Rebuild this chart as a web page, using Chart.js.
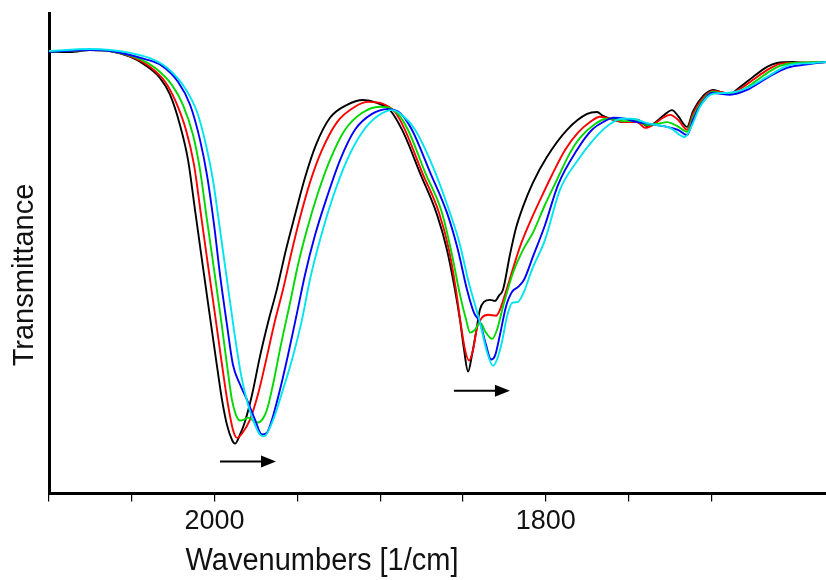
<!DOCTYPE html>
<html>
<head>
<meta charset="utf-8">
<script src="https://cdn.jsdelivr.net/npm/chart.js@4.4.0/dist/chart.umd.min.js"></script>
<style>
  html, body { margin: 0; padding: 0; background: #fff; }
  #wrap { width: 826px; height: 580px; }
</style>
</head>
<body>
<div id="wrap"><canvas id="chart" width="826" height="580"></canvas></div>
<script>
// IR spectra, wavenumber (1/cm) vs transmittance (arbitrary units 0-100)
const wnBlack = [2100, 2087.3, 2075.2, 2063.2, 2051.1, 2042.0, 2033.0, 2026.9, 2020.9, 2016.0, 2011.8, 2007.6, 2003.4, 1999.1, 1995.5, 1992.5, 1989.5, 1987.7, 1984.6, 1981.6, 1977.4, 1972.6, 1967.7, 1962.3, 1956.9, 1951.4, 1945.4, 1938.7, 1930.3, 1920.0, 1910.3, 1901.9, 1894.0, 1886.2, 1875.9, 1865.6, 1859.6, 1854.8, 1851.8, 1849.3, 1846.9, 1844.5, 1842.1, 1839.7, 1837.3, 1833.6, 1830.6, 1828.2, 1825.8, 1821.6, 1817.9, 1813.7, 1807.7, 1799.2, 1787.1, 1775.0, 1769.0, 1765.4, 1759.3, 1753.3, 1744.8, 1738.8, 1735.2, 1729.1, 1723.7, 1720.1, 1714.6, 1711.0, 1705.0, 1698.9, 1694.7, 1688.7, 1682.6, 1674.8, 1666.3, 1660.3, 1650.6, 1642.2, 1630.7];
const tBlack = [91.9, 91.9, 92.3, 92.1, 90.9, 89.2, 86.5, 83.0, 76.7, 69.4, 59.0, 48.6, 38.3, 27.9, 19.5, 14.3, 11.2, 10.4, 12.3, 15.0, 20.5, 28.5, 35.6, 42.6, 50.7, 58.0, 65.7, 72.6, 78.2, 80.9, 81.9, 81.3, 79.8, 75.3, 66.7, 58.0, 50.7, 42.4, 36.2, 29.9, 25.4, 28.9, 33.5, 38.3, 39.9, 40.3, 40.1, 41.2, 42.4, 49.7, 55.3, 59.7, 64.7, 70.1, 75.7, 79.0, 79.4, 78.6, 77.8, 77.3, 77.8, 76.5, 76.9, 78.6, 79.8, 78.6, 76.3, 79.6, 82.7, 84.0, 83.6, 83.2, 84.6, 86.7, 88.8, 89.6, 89.8, 89.6, 89.8];

const wnRed = [2100, 2075.2, 2063.2, 2048.1, 2039.0, 2029.9, 2023.9, 2017.3, 2012.4, 2008.2, 2004.0, 1999.7, 1995.5, 1991.9, 1988.9, 1986.4, 1983.4, 1978.6, 1973.8, 1969.5, 1964.1, 1958.7, 1953.2, 1948.4, 1942.4, 1935.1, 1926.0, 1915.2, 1907.3, 1898.3, 1891.0, 1885.0, 1874.7, 1864.4, 1858.4, 1854.2, 1851.2, 1848.7, 1846.3, 1843.9, 1841.5, 1838.5, 1834.8, 1830.0, 1827.6, 1824.6, 1820.3, 1815.5, 1809.5, 1803.4, 1796.2, 1788.3, 1780.5, 1773.2, 1767.2, 1759.3, 1753.3, 1744.8, 1740.0, 1735.2, 1729.1, 1724.9, 1720.1, 1714.6, 1711.0, 1705.0, 1698.9, 1694.7, 1688.7, 1682.6, 1674.8, 1666.3, 1658.5, 1650.6, 1630.7];
const tRed = [91.9, 92.3, 92.1, 90.6, 88.8, 85.7, 81.9, 75.7, 68.4, 58.0, 47.6, 37.2, 26.8, 18.5, 13.3, 11.6, 12.5, 15.4, 20.6, 26.8, 35.1, 42.4, 50.7, 57.4, 64.7, 71.5, 77.3, 80.5, 81.5, 81.1, 79.4, 75.7, 66.9, 58.4, 50.7, 42.4, 35.1, 29.9, 27.7, 29.9, 34.5, 36.6, 37.2, 37.0, 38.3, 41.4, 46.2, 51.4, 56.5, 61.1, 66.3, 71.5, 75.1, 77.3, 78.4, 77.8, 77.3, 77.3, 76.1, 76.7, 78.2, 78.8, 77.8, 75.7, 79.0, 82.3, 83.8, 83.6, 83.2, 84.2, 86.1, 88.1, 89.4, 89.6, 89.8];

const wnGreen = [2100, 2075.2, 2063.2, 2045.0, 2036.0, 2025.7, 2019.1, 2013.0, 2008.8, 2004.6, 2000.3, 1996.1, 1992.5, 1989.5, 1987.1, 1984.6, 1982.2, 1979.8, 1976.8, 1973.8, 1970.8, 1968.3, 1964.7, 1959.9, 1954.4, 1949.6, 1944.2, 1937.5, 1930.3, 1921.2, 1911.0, 1900.1, 1894.0, 1889.2, 1883.2, 1872.9, 1862.6, 1856.6, 1851.8, 1848.1, 1845.7, 1842.7, 1839.7, 1836.1, 1832.4, 1829.4, 1825.8, 1819.8, 1813.7, 1807.7, 1800.4, 1793.2, 1785.3, 1779.3, 1770.2, 1763.0, 1759.3, 1753.3, 1744.8, 1738.8, 1732.8, 1726.7, 1720.7, 1714.6, 1711.0, 1705.0, 1698.9, 1694.7, 1688.7, 1682.6, 1674.8, 1666.3, 1658.5, 1650.6, 1630.7];
const tGreen = [91.9, 92.3, 92.1, 90.4, 88.6, 85.0, 80.9, 74.6, 67.4, 57.0, 46.6, 36.2, 26.8, 19.5, 16.4, 15.2, 15.4, 15.8, 15.2, 14.8, 15.6, 17.5, 22.7, 31.0, 39.7, 47.6, 54.9, 62.6, 69.4, 75.7, 79.2, 80.5, 80.2, 79.0, 75.7, 66.9, 58.4, 49.7, 41.4, 36.2, 33.5, 34.1, 35.6, 33.5, 32.2, 34.1, 38.9, 45.9, 50.7, 54.3, 60.1, 65.3, 70.9, 74.0, 76.9, 78.0, 78.0, 77.5, 77.5, 76.7, 76.9, 77.3, 76.5, 75.3, 78.4, 81.9, 83.6, 83.4, 83.2, 83.8, 85.4, 87.5, 89.0, 89.6, 89.8];

const wnBlue = [2100, 2075.2, 2063.2, 2042.0, 2031.7, 2022.1, 2014.8, 2008.8, 2004.6, 2000.3, 1996.7, 1992.5, 1988.9, 1984.6, 1980.4, 1975.6, 1971.4, 1968.3, 1965.3, 1960.5, 1955.6, 1950.2, 1945.4, 1939.3, 1932.1, 1924.2, 1915.2, 1904.9, 1895.2, 1888.0, 1880.8, 1869.9, 1859.6, 1853.0, 1847.5, 1843.3, 1839.7, 1836.1, 1833.0, 1830.6, 1827.6, 1824.0, 1820.3, 1816.7, 1813.1, 1807.7, 1800.4, 1792.6, 1781.1, 1772.0, 1764.2, 1759.3, 1752.1, 1744.8, 1737.0, 1726.7, 1720.1, 1714.6, 1711.0, 1706.8, 1698.9, 1694.7, 1688.7, 1678.4, 1666.3, 1654.3, 1640.4, 1630.7];
const tBlue = [91.9, 92.3, 92.1, 90.4, 89.0, 85.7, 80.9, 73.6, 66.3, 55.9, 45.5, 35.1, 26.8, 22.7, 19.5, 15.4, 12.3, 12.7, 15.4, 21.6, 28.9, 37.6, 45.5, 53.8, 61.7, 69.4, 75.7, 79.0, 80.0, 79.2, 75.7, 66.9, 58.4, 50.7, 42.4, 37.6, 35.6, 31.0, 27.9, 28.7, 33.1, 38.9, 42.0, 43.0, 44.5, 49.3, 55.9, 64.2, 71.5, 75.7, 77.5, 78.2, 78.0, 77.3, 76.9, 76.3, 75.7, 74.6, 77.8, 80.7, 83.4, 83.2, 83.0, 84.0, 86.5, 88.6, 89.4, 89.8];

const wnCyan = [2100, 2075.2, 2063.2, 2051.1, 2039.0, 2028.7, 2017.9, 2010.6, 2005.2, 2001.0, 1996.7, 1992.5, 1988.3, 1984.0, 1979.8, 1975.6, 1972.6, 1970.1, 1967.7, 1963.5, 1958.7, 1953.2, 1947.2, 1942.4, 1936.3, 1929.1, 1920.0, 1911.0, 1901.3, 1892.8, 1886.2, 1878.9, 1868.1, 1857.8, 1851.8, 1846.9, 1842.7, 1839.7, 1835.5, 1831.8, 1829.4, 1826.4, 1823.4, 1820.3, 1816.7, 1813.1, 1808.3, 1800.4, 1791.4, 1780.5, 1770.2, 1761.2, 1753.9, 1747.9, 1738.8, 1732.8, 1724.9, 1715.9, 1711.6, 1706.8, 1698.9, 1688.7, 1678.4, 1666.3, 1654.3, 1638.6, 1630.7];
const tCyan = [92.1, 92.5, 92.3, 91.7, 90.6, 88.6, 84.4, 79.4, 72.6, 65.3, 54.9, 44.5, 34.1, 24.7, 18.5, 14.3, 12.3, 11.9, 12.9, 16.4, 21.6, 27.9, 36.2, 44.5, 52.8, 61.1, 69.4, 75.1, 78.6, 79.8, 78.6, 75.7, 68.0, 58.4, 51.8, 44.5, 39.3, 35.6, 29.5, 26.6, 27.9, 31.6, 36.8, 39.7, 39.9, 42.0, 46.6, 52.8, 63.2, 69.4, 74.0, 76.9, 78.0, 78.0, 77.1, 76.7, 76.1, 74.2, 76.7, 80.5, 83.2, 83.4, 84.4, 86.7, 89.0, 89.6, 89.8];

// tick labels shown on the wavenumber axis
const xLabelValues = [2000, 1800];
const xTitle = 'Wavenumbers [1/cm]';
const yTitle = 'Transmittance';

// shift arrows (start wavenumber, end wavenumber, height)
const arrowFrom = [1996.7, 1855.4];
const arrowTo = [1962.9, 1821.6];
const arrowLevel = [6.7, 21.4];

function toPoints(xs, ys) {
    return xs.map((x, i) => ({x: x, y: ys[i]}));
}

function makeSet(label, xs, ys, color, order) {
    return {
        label: label,
        data: toPoints(xs, ys),
        borderColor: color,
        borderWidth: 1.9,
        pointRadius: 0,
        fill: false,
        cubicInterpolationMode: 'monotone',
        order: order
    };
}

const FONT = '"Liberation Sans", Arial, sans-serif';

// titles and arrows
const extras = {
    id: 'extras',
    afterDraw(chart) {
        const ctx = chart.ctx;
        const xs = chart.scales.x;
        const ys = chart.scales.y;
        ctx.save();
        ctx.strokeStyle = '#000';
        ctx.fillStyle = '#000';
        ctx.lineWidth = 2;
        for (let i = 0; i < arrowFrom.length; i++) {
            const x0 = xs.getPixelForValue(arrowFrom[i]);
            const x1 = xs.getPixelForValue(arrowTo[i]);
            const y = ys.getPixelForValue(arrowLevel[i]);
            ctx.beginPath();
            ctx.moveTo(x0, y);
            ctx.lineTo(x1 - 10, y);
            ctx.stroke();
            ctx.beginPath();
            ctx.moveTo(x1, y);
            ctx.lineTo(x1 - 15, y - 6);
            ctx.lineTo(x1 - 15, y + 6);
            ctx.closePath();
            ctx.fill();
        }

        // axis titles, a bit taller than wide like the original
        ctx.fillStyle = '#111';
        ctx.font = '29px ' + FONT;
        ctx.textAlign = 'center';
        ctx.textBaseline = 'middle';
        ctx.save();
        ctx.translate(322, 561);
        ctx.scale(1, 1.1);
        ctx.fillText(xTitle, 0, 0);
        ctx.restore();

        ctx.translate(25, 275);
        ctx.rotate(-Math.PI / 2);
        ctx.fillText(yTitle, 0, 0);
        ctx.restore();
    }
};

const ctx = document.getElementById('chart');
new Chart(ctx, {
    type: 'line',
    data: {
        datasets: [
            makeSet('black', wnBlack, tBlack, '#000000', 4),
            makeSet('red', wnRed, tRed, '#ff0000', 3),
            makeSet('green', wnGreen, tGreen, '#00d800', 2),
            makeSet('blue', wnBlue, tBlue, '#0000ff', 1),
            makeSet('cyan', wnCyan, tCyan, '#00e4f0', 0)
        ]
    },
    options: {
        responsive: false,
        animation: false,
        layout: { padding: { left: 49, top: 13, right: 0, bottom: 38 } },
        plugins: {
            legend: { display: false },
            tooltip: { enabled: false }
        },
        scales: {
            x: {
                type: 'linear',
                reverse: true,
                min: 1630.7,
                max: 2100,
                afterBuildTicks(scale) {
                    scale.ticks = scale.ticks.filter(t => t.value % 50 === 0);
                },
                ticks: {
                    stepSize: 50,
                    autoSkip: false,
                    maxRotation: 0,
                    padding: 4,
                    color: '#111',
                    font: { family: FONT, size: 27 },
                    callback: (v) => xLabelValues.includes(v) ? String(v) : ''
                },
                grid: {
                    display: true,
                    drawOnChartArea: false,
                    drawTicks: true,
                    tickLength: 8,
                    color: '#000',
                    lineWidth: 1.2
                },
                border: { display: true, color: '#000', width: 3 }
            },
            y: {
                min: 0,
                max: 100,
                ticks: { display: false },
                grid: { display: false, drawTicks: false },
                border: { display: true, color: '#000', width: 3 }
            }
        }
    },
    plugins: [extras]
});
</script>
</body>
</html>
